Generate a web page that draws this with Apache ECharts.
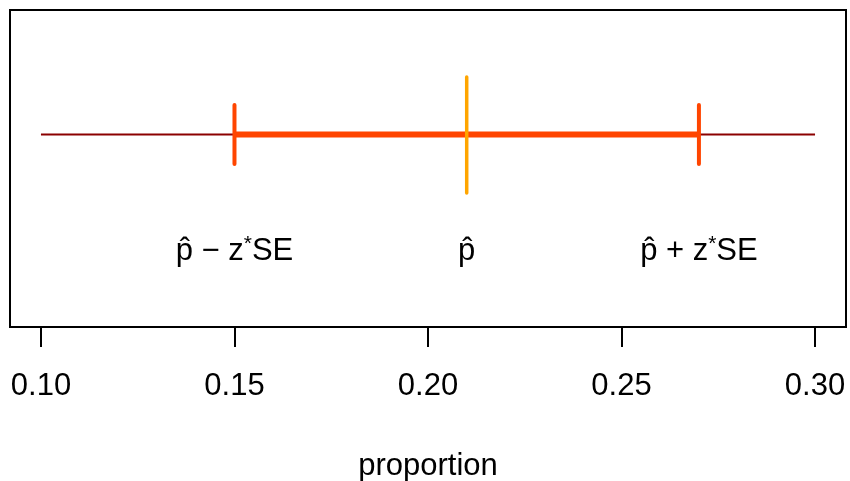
<!DOCTYPE html>
<html>
<head>
<meta charset="utf-8">
<script src="https://cdn.jsdelivr.net/npm/echarts@6/dist/echarts.min.js"></script>
<style>html,body{margin:0;padding:0;background:#fff}#c{width:850px;height:481px}</style>
</head>
<body>
<div id="c"></div>
<script>
var tickValues = [0.10, 0.15, 0.20, 0.25, 0.30];
var fullRange = [0.10, 0.30];
var pHat = 0.21;
var ciLower = 0.15;
var ciUpper = 0.27;
var labelTexts = ['{p|p\u0302}{t| \u2212 z}{s|*}{t|SE}', '{p|p\u0302}', '{p|p\u0302}{t| + z}{s|*}{t|SE}'];
var labelXs = [ciLower, pHat, ciUpper];
var xTitle = 'proportion';

var yLine = 0.607, yRedLo = 0.514, yRedHi = 0.700, yOrLo = 0.423, yOrHi = 0.789, yLab = 0.238;
var FF = 'Liberation Sans, Arial, sans-serif';
var rich = {
  p: {fontSize: 31, fontFamily: FF, color: '#000'},
  t: {fontSize: 31, fontFamily: FF, color: '#000'},
  s: {fontSize: 21, fontFamily: FF, color: '#000', verticalAlign: 'top', padding: [0,0,14,0]}
};
var chart = echarts.init(document.getElementById('c'), null, {renderer: 'canvas'});
chart.setOption({
  animation: false,
  grid: {left: 10, right: 4, top: 10, bottom: 154, show: true, borderColor: '#000', borderWidth: 2,
    backgroundColor: 'transparent', outerBoundsMode: 'none', containLabel: false},
  xAxis: {
    type: 'value', min: 0.092, max: 0.308,
    axisLine: {show: false},
    splitLine: {show: false},
    axisTick: {show: true, length: 20, lineStyle: {color: '#000', width: 2}, customValues: tickValues},
    axisLabel: {customValues: tickValues, margin: 44, fontSize: 31, fontFamily: FF, color: '#000',
      formatter: function(v){ return v.toFixed(2); }},
    name: xTitle, nameLocation: 'middle', nameGap: 124,
    nameTextStyle: {fontSize: 31, fontFamily: FF, color: '#000'}
  },
  yAxis: {type: 'value', min: 0, max: 1, show: false},
  series: [
    {type: 'line', symbol: 'none', lineStyle: {color: '#8B0000', width: 2}, data: [[fullRange[0], yLine], [fullRange[1], yLine]], z: 2},
    {type: 'line', symbol: 'none', lineStyle: {color: '#FF4500', width: 6}, data: [[ciLower, yLine], [ciUpper, yLine]], z: 3},
    {type: 'line', symbol: 'none', lineStyle: {color: '#FF4500', width: 4, cap: 'round'}, data: [[ciLower, yRedLo], [ciLower, yRedHi]], z: 3},
    {type: 'line', symbol: 'none', lineStyle: {color: '#FF4500', width: 4, cap: 'round'}, data: [[ciUpper, yRedLo], [ciUpper, yRedHi]], z: 3},
    {type: 'line', symbol: 'none', lineStyle: {color: '#FFA500', width: 3.5, cap: 'round'}, data: [[pHat, yOrLo], [pHat, yOrHi]], z: 4},
    {type: 'scatter', symbolSize: 0, z: 5, itemStyle: {opacity: 1},
      data: labelXs.map(function(x, i){ return {value: [x, yLab], label: {formatter: labelTexts[i], color: '#000'}}; }),
      label: {show: true, position: 'inside', color: '#000', opacity: 1, rich: rich}}
  ]
});
</script>
</body>
</html>
